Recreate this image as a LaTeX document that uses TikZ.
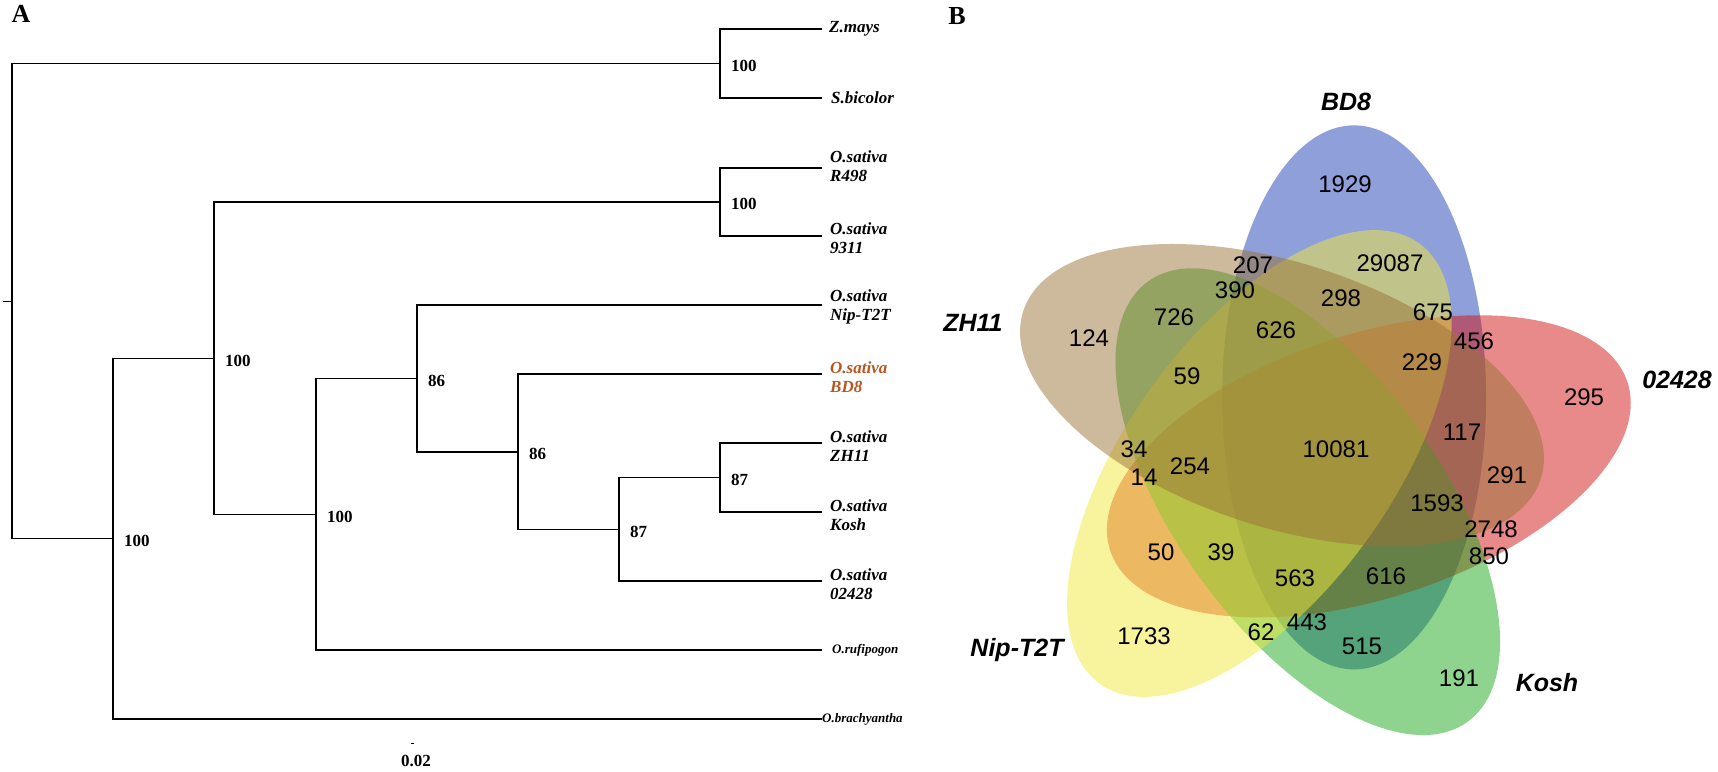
\documentclass[tikz,border=0pt]{standalone}
\usepackage{fontspec}
\setmainfont{Liberation Serif}
\setsansfont{Liberation Sans}
\usetikzlibrary{positioning}

\definecolor{bdeight}{RGB}{31,63,179}
\definecolor{rzero}{RGB}{209,21,21}
\definecolor{koshc}{RGB}{29,169,29}
\definecolor{nipc}{RGB}{241,233,61}
\definecolor{zhc}{RGB}{155,115,55}
\definecolor{bdlabel}{RGB}{184,86,31}

\tikzset{
	branch/.style={line width=1.8pt, black},
	leaf/.style={anchor=west, align=left, inner sep=0pt, font=\fontsize{17}{19}\selectfont\bfseries\itshape},
	smallleaf/.style={anchor=west, inner sep=0pt, font=\fontsize{13}{15}\selectfont\bfseries\itshape},
	boot/.style={anchor=west, inner sep=0pt, yshift=-2pt, font=\fontsize{17}{19}\selectfont\bfseries},
	petal/.style={fill opacity=0.5},
	cnt/.style={inner sep=0pt, font=\sffamily\fontsize{24}{24}\selectfont},
	setname/.style={inner sep=0pt, font=\sffamily\bfseries\itshape\fontsize{25}{25}\selectfont},
	panel/.style={inner sep=0pt, font=\fontsize{26}{26}\selectfont\bfseries},
}

\begin{document}
\begin{tikzpicture}[x=1pt, y=-1pt]
	\useasboundingbox (0,0) rectangle (1718,771);

	% A: tree
	\node[panel] (pa) at (21, 14) {A};

	\coordinate (stub) at (3, 301.5);
	\coordinate (root) at (12, 301.5);
	\coordinate (n1) at (720, 63.5);
	\coordinate (n2) at (113, 538.5);
	\coordinate (n3) at (214, 358.5);
	\coordinate (n4) at (720, 202);
	\coordinate (n5) at (316, 514.5);
	\coordinate (n6) at (417, 378.5);
	\coordinate (n7) at (518, 452);
	\coordinate (n8) at (619, 529.5);
	\coordinate (n9) at (720, 477.5);

	\coordinate (tZm) at (822, 29);
	\coordinate (tSb) at (822, 98);
	\coordinate (tRf) at (822, 168);
	\coordinate (tNt) at (822, 236);
	\coordinate (tNip) at (822, 305);
	\coordinate (tBD) at (822, 374);
	\coordinate (tZH) at (822, 443);
	\coordinate (tKo) at (822, 512);
	\coordinate (tOt) at (822, 581);
	\coordinate (tRu) at (822, 650);
	\coordinate (tBr) at (822, 719);

	\draw[branch] (stub) -- (root);
	\draw[branch] (root) |- (n1);
	\draw[branch] (root) |- (n2);
	\draw[branch] (n1) |- (tZm);
	\draw[branch] (n1) |- (tSb);
	\draw[branch] (n2) |- (n3);
	\draw[branch] (n2) |- (tBr);
	\draw[branch] (n3) |- (n4);
	\draw[branch] (n3) |- (n5);
	\draw[branch] (n4) |- (tRf);
	\draw[branch] (n4) |- (tNt);
	\draw[branch] (n5) |- (n6);
	\draw[branch] (n5) |- (tRu);
	\draw[branch] (n6) |- (tNip);
	\draw[branch] (n6) |- (n7);
	\draw[branch] (n7) |- (tBD);
	\draw[branch] (n7) |- (n8);
	\draw[branch] (n8) |- (n9);
	\draw[branch] (n8) |- (tOt);
	\draw[branch] (n9) |- (tZH);
	\draw[branch] (n9) |- (tKo);

	\node[leaf, right=7pt of tZm] (lZm) {Z.mays};
	\node[leaf, right=9pt of tSb] (lSb) {S.bicolor};
	\node[leaf, right=8pt of tRf, yshift=2pt] (lRf) {O.sativa\\R498};
	\node[leaf, right=8pt of tNt, yshift=-2pt] (lNt) {O.sativa\\9311};
	\node[leaf, right=8pt of tNip, yshift=-2pt] (lNip) {O.sativa\\Nip-T2T};
	\node[leaf, right=8pt of tBD, yshift=-3pt, text=bdlabel] (lBD) {O.sativa\\BD8};
	\node[leaf, right=8pt of tZH, yshift=-3pt] (lZH) {O.sativa\\ZH11};
	\node[leaf, right=8pt of tKo, yshift=-3pt] (lKo) {O.sativa\\Kosh};
	\node[leaf, right=8pt of tOt, yshift=-3pt] (lOt) {O.sativa\\02428};
	\node[smallleaf, right=10pt of tRu] (lRu) {O.rufipogon};
	\node[smallleaf, right=0pt of tBr] (lBr) {O.brachyantha};

	\node[boot, right=11pt of n1] (b1) {100};
	\node[boot, right=11pt of n2] (b2) {100};
	\node[boot, right=11pt of n3] (b3) {100};
	\node[boot, right=11pt of n4] (b4) {100};
	\node[boot, right=11pt of n5] (b5) {100};
	\node[boot, right=11pt of n6] (b6) {86};
	\node[boot, right=11pt of n7] (b7) {86};
	\node[boot, right=11pt of n8] (b8) {87};
	\node[boot, right=11pt of n9] (b9) {87};

	\coordinate (sbar) at (411, 743);
	\draw[line width=1pt] (sbar) -- ++(2.5, 0);
	\node[boot, anchor=center, yshift=0pt] (lsbar) at (416, 759) {0.02};

	% B: venn
	\node[panel] (pb) at (957, 16) {B};

	\begin{scope}[shift={(1314, 442)}]
		\fill[petal, bdeight] (40.1, -44.6) ellipse [x radius=132, y radius=272];
		\fill[petal, rzero, rotate=-72] (40.1, -44.6) ellipse [x radius=132, y radius=272];
		\fill[petal, koshc, rotate=-144] (40.1, -44.6) ellipse [x radius=132, y radius=272];
		\fill[petal, nipc, shift={(4, 9)}, rotate=-216] (40.1, -44.6) ellipse [x radius=132, y radius=272];
		\fill[petal, zhc, shift={(-2, 5)}, rotate=-288] (40.1, -44.6) ellipse [x radius=132, y radius=272];
	\end{scope}

	\node[setname] (sBD) at (1346, 102) {BD8};
	\node[setname] (sOt) at (1677, 380) {02428};
	\node[setname] (sKo) at (1547, 683) {Kosh};
	\node[setname] (sNip) at (1017, 650) {Nip-T2T};
	\node[setname] (sZH) at (973, 323) {ZH11};

	\node[cnt] (c1929) at (1345, 184) {1929};
	\node[cnt] (c207) at (1253, 265) {207};
	\node[cnt] (c29087) at (1390, 263) {29087};
	\node[cnt] (c390) at (1235, 290) {390};
	\node[cnt] (c298) at (1341, 298) {298};
	\node[cnt] (c726) at (1174, 317) {726};
	\node[cnt] (c675) at (1433, 312) {675};
	\node[cnt] (c124) at (1089, 338) {124};
	\node[cnt] (c626) at (1276, 330) {626};
	\node[cnt] (c456) at (1474, 341) {456};
	\node[cnt] (c229) at (1422, 362) {229};
	\node[cnt] (c59) at (1187, 376) {59};
	\node[cnt] (c295) at (1584, 397) {295};
	\node[cnt] (c117) at (1462, 432) {117};
	\node[cnt] (c34) at (1134, 449) {34};
	\node[cnt] (c10081) at (1336, 449) {10081};
	\node[cnt] (c254) at (1190, 466) {254};
	\node[cnt] (c14) at (1144, 477) {14};
	\node[cnt] (c291) at (1507, 475) {291};
	\node[cnt] (c1593) at (1437, 503) {1593};
	\node[cnt] (c2748) at (1491, 529) {2748};
	\node[cnt] (c50) at (1161, 552) {50};
	\node[cnt] (c39) at (1221, 552) {39};
	\node[cnt] (c850) at (1489, 556) {850};
	\node[cnt] (c563) at (1295, 578) {563};
	\node[cnt] (c616) at (1386, 576) {616};
	\node[cnt] (c443) at (1307, 622) {443};
	\node[cnt] (c62) at (1261, 632) {62};
	\node[cnt] (c1733) at (1144, 636) {1733};
	\node[cnt] (c515) at (1362, 646) {515};
	\node[cnt] (c191) at (1459, 678) {191};

\end{tikzpicture}
\end{document}
